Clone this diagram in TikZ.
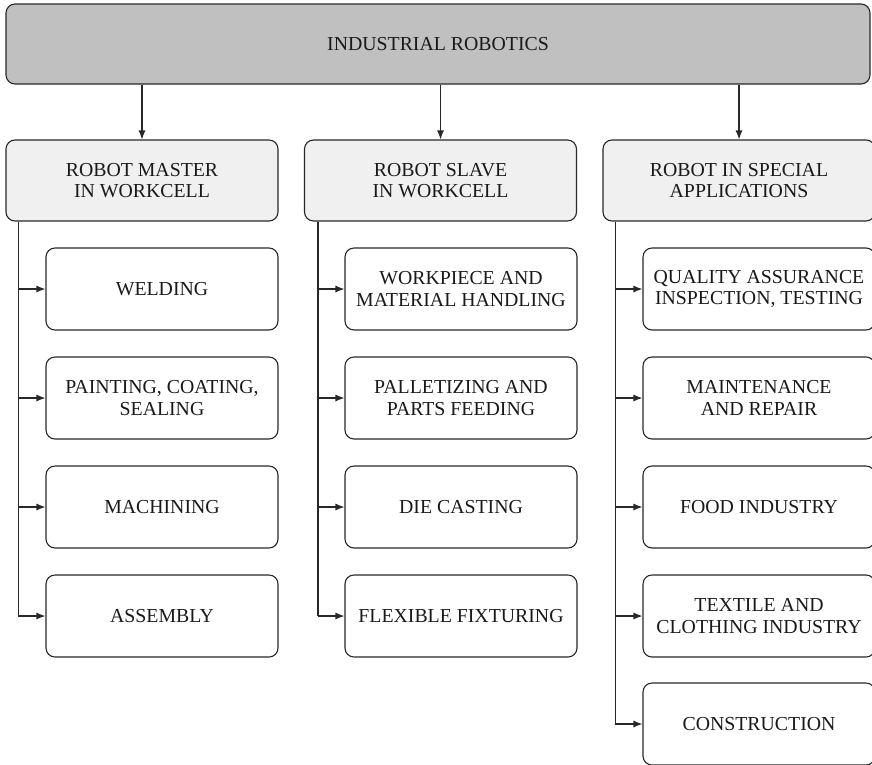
\documentclass[tikz,border=0pt]{standalone}
\usepackage{fontspec}
\setmainfont{Liberation Serif}
\usetikzlibrary{arrows.meta}
\definecolor{topgray}{RGB}{192,192,192}
\definecolor{headgray}{RGB}{240,240,240}
\definecolor{edge}{RGB}{40,40,40}
\begin{document}
\begin{tikzpicture}[x=1pt,y=-1pt,
  box/.style={draw=edge, line width=1.1pt, rounded corners=9pt, align=center,
    font=\fontsize{19.8}{21.5}\selectfont, inner sep=0pt, text=black!90},
  topbox/.style={box, fill=topgray, minimum width=864pt, minimum height=80pt},
  head/.style={box, fill=headgray, minimum width=272pt, minimum height=81pt},
  child/.style={box, fill=white, minimum width=232pt, minimum height=82pt},
  arr/.style={line width=1.1pt, draw=edge, -{Latex[length=9pt,width=7pt]}},
  ln/.style={line width=1.1pt, draw=edge}]
\clip (0,0) rectangle (872,764);
\fill[white] (0,0) rectangle (872,764);

\node[topbox] (top) at (438,44) {INDUSTRIAL ROBOTICS};

\node[head] (h1) at (142,180.5) {ROBOT MASTER\\IN WORKCELL};
\node[head] (h2) at (440.5,180.5) {ROBOT SLAVE\\IN WORKCELL};
\node[head] (h3) at (739,180.5) {ROBOT IN SPECIAL\\APPLICATIONS};

\node[child] (a1) at (162,289) {WELDING};
\node[child] (a2) at (162,398) {PAINTING, COATING,\\SEALING};
\node[child] (a3) at (162,507) {MACHINING};
\node[child] (a4) at (162,616) {ASSEMBLY};

\node[child] (b1) at (461,289) {WORKPIECE AND\\MATERIAL HANDLING};
\node[child] (b2) at (461,398) {PALLETIZING AND\\PARTS FEEDING};
\node[child] (b3) at (461,507) {DIE CASTING};
\node[child] (b4) at (461,616) {FLEXIBLE FIXTURING};

\node[child] (c1) at (759,289) {QUALITY ASSURANCE\\INSPECTION, TESTING};
\node[child] (c2) at (759,398) {MAINTENANCE\\AND REPAIR};
\node[child] (c3) at (759,507) {FOOD INDUSTRY};
\node[child] (c4) at (759,616) {TEXTILE AND\\CLOTHING INDUSTRY};
\node[child] (c5) at (759,724) {CONSTRUCTION};

\draw[arr] (top.south -| h1.north) -- (h1.north);
\draw[arr] (top.south -| h2.north) -- (h2.north);
\draw[arr] (top.south -| h3.north) -- (h3.north);

\coordinate (t1) at ([xshift=13pt]h1.south west);
\coordinate (t2) at ([xshift=14pt]h2.south west);
\coordinate (t3) at ([xshift=13pt]h3.south west);

\draw[ln] (t1) -- (t1 |- a4.west);
\foreach \n in {a1,a2,a3,a4} \draw[arr] (t1 |- \n.west) -- (\n.west);
\draw[ln] (t2) -- (t2 |- b4.west);
\foreach \n in {b1,b2,b3,b4} \draw[arr] (t2 |- \n.west) -- (\n.west);
\draw[ln] (t3) -- (t3 |- c5.west);
\foreach \n in {c1,c2,c3,c4,c5} \draw[arr] (t3 |- \n.west) -- (\n.west);
\end{tikzpicture}
\end{document}
